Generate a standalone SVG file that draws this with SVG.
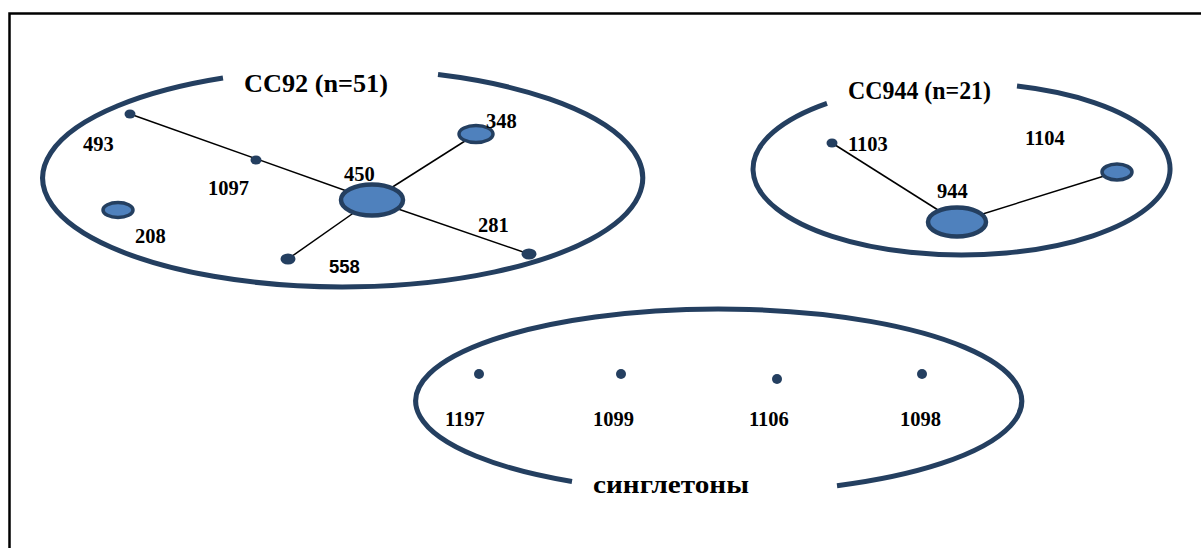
<svg xmlns="http://www.w3.org/2000/svg" width="1201" height="548" viewBox="0 0 1201 548">
  <style>
    .frame { fill: none; stroke: #000; stroke-width: 2.5; }
    .cluster { fill: none; stroke: #243F60; stroke-width: 5; }
    .edge { stroke: #000; stroke-width: 1.5; fill: none; }
    .st { fill: #4F81BD; stroke: #243F60; }
    .dot { fill: #243F60; stroke: none; }
    .title { font-family: "Liberation Serif", "Times New Roman", serif; font-weight: bold; font-size: 25px; fill: #000; }
    .lbl { font-family: "Liberation Serif", "Times New Roman", serif; font-weight: bold; font-size: 20.5px; fill: #000; }
    .lbl-sans { font-family: "Liberation Sans", Arial, sans-serif; font-weight: bold; font-size: 18.5px; fill: #000; }
  </style>
  <rect width="1201" height="548" fill="#fff"/>
  <!-- outer frame (open at right and bottom edges) -->
  <path class="frame" d="M9.5,548 V13.5 H1201"/>

  <!-- cluster outlines -->
  <g id="clusters">
    <path class="cluster" d="M438,74.6 A300,109 0 1 1 223,78"/>
    <path class="cluster" d="M1017,86.1 A208.5,86 0 1 1 827,103.3"/>
    <path class="cluster" d="M837,485.7 A303,92 0 1 0 572,481.5"/>
    <text class="title" x="244" y="92" textLength="144" lengthAdjust="spacingAndGlyphs">CC92 (n=51)</text>
    <text class="title" x="848" y="99" textLength="143" lengthAdjust="spacingAndGlyphs">CC944 (n=21)</text>
    <text class="title" x="593" y="493" font-size="28" textLength="156" lengthAdjust="spacingAndGlyphs">синглетоны</text>
  </g>

  <!-- connectors -->
  <g id="connectors">
    <line class="edge" x1="130" y1="114" x2="372" y2="200"/>
    <line class="edge" x1="372" y1="200" x2="476" y2="134"/>
    <line class="edge" x1="372" y1="200" x2="288" y2="259"/>
    <line class="edge" x1="372" y1="200" x2="529" y2="254"/>
    <line class="edge" x1="832" y1="143" x2="957" y2="222"/>
    <line class="edge" x1="957" y1="222" x2="1117" y2="172"/>
  </g>

  <!-- CC92 -->
  <g id="st450"><ellipse class="st" cx="372" cy="200" rx="31" ry="15.5" stroke-width="4.5"/><text class="lbl" x="344" y="181">450</text></g>
  <g id="st348"><ellipse class="st" cx="476" cy="134" rx="17" ry="8.5" stroke-width="3.5"/><text class="lbl" x="486" y="128">348</text></g>
  <g id="st208"><ellipse class="st" cx="118" cy="210" rx="15" ry="7.5" stroke-width="3.5"/><text class="lbl" x="135" y="243">208</text></g>
  <g id="st493"><ellipse class="dot" cx="130" cy="114" rx="5.5" ry="4.5"/><text class="lbl" x="83" y="151">493</text></g>
  <g id="st1097"><ellipse class="dot" cx="256" cy="160" rx="5.5" ry="4.5"/><text class="lbl" x="208" y="195">1097</text></g>
  <g id="st281"><ellipse class="dot" cx="529" cy="254" rx="7.5" ry="5.5"/><text class="lbl" x="478" y="232">281</text></g>
  <g id="st558"><ellipse class="dot" cx="288" cy="259" rx="7.5" ry="5.5"/><text class="lbl-sans" x="329" y="273">558</text></g>

  <!-- CC944 -->
  <g id="st944"><ellipse class="st" cx="957" cy="222" rx="29" ry="14.5" stroke-width="4.5"/><text class="lbl" x="937" y="198">944</text></g>
  <g id="st1104"><ellipse class="st" cx="1117" cy="172" rx="15" ry="8" stroke-width="3.5"/><text class="lbl" x="1025" y="145">1104</text></g>
  <g id="st1103"><ellipse class="dot" cx="832" cy="143" rx="5.5" ry="4.5"/><text class="lbl" x="848" y="151">1103</text></g>

  <!-- singletons -->
  <g id="st1197"><circle class="dot" cx="479" cy="374" r="5"/><text class="lbl" x="445" y="426">1197</text></g>
  <g id="st1099"><circle class="dot" cx="621" cy="374" r="5"/><text class="lbl" x="593" y="426">1099</text></g>
  <g id="st1106"><circle class="dot" cx="777" cy="379" r="5"/><text class="lbl" x="749" y="426">1106</text></g>
  <g id="st1098"><circle class="dot" cx="922" cy="374" r="5"/><text class="lbl" x="900" y="426">1098</text></g>
</svg>
